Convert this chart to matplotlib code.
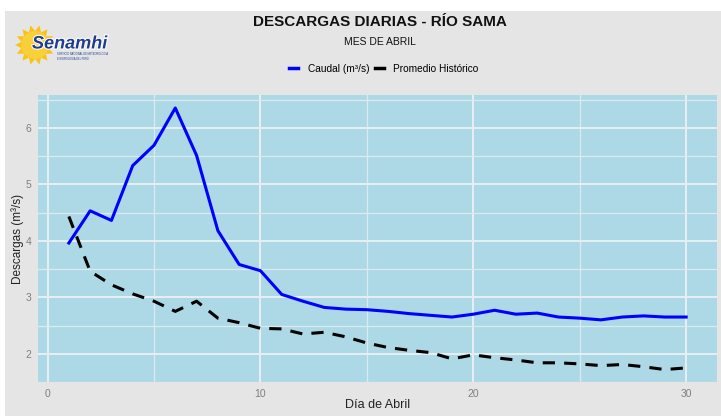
import numpy as np
import matplotlib
matplotlib.use("Agg")
import matplotlib.pyplot as plt
from matplotlib.patches import Rectangle, Polygon, Circle
from matplotlib.ticker import MultipleLocator
import matplotlib.patheffects as pe

# data
dias = list(range(1, 31))
caudal = [3.96, 4.53, 4.36, 5.33, 5.69, 6.35, 5.51, 4.18, 3.58, 3.47,
          3.05, 2.93, 2.82, 2.79, 2.78, 2.75, 2.71, 2.68, 2.65, 2.70,
          2.77, 2.70, 2.72, 2.65, 2.63, 2.60, 2.65, 2.67, 2.65, 2.65]
promedio = [4.43, 3.46, 3.22, 3.06, 2.93, 2.75, 2.93, 2.63, 2.55, 2.45,
            2.44, 2.35, 2.38, 2.30, 2.19, 2.11, 2.06, 2.02, 1.91, 1.98,
            1.93, 1.89, 1.84, 1.84, 1.82, 1.79, 1.81, 1.77, 1.72, 1.75]

plt.rcParams['font.family'] = ['Liberation Sans', 'DejaVu Sans']

W, H = 721, 416
fig = plt.figure(figsize=(W / 100, H / 100), dpi=100, facecolor='white')

# grey background of the plot area
fig.patches.append(Rectangle((5 / W, 0), 1, 1 - 11 / H, transform=fig.transFigure,
                             facecolor='#e5e5e5', edgecolor='none', zorder=-10))

ax = fig.add_axes([38 / W, 1 - 382 / H, (717 - 38) / W, (382 - 95) / H])
ax.set_facecolor('#add8e6')
ax.plot(dias, caudal, color='#0000ff', lw=2.2, label='Caudal (m³/s)')
ax.plot(dias, promedio, color='black', lw=2.2, ls=(0, (4, 3)), label='Promedio Histórico')

ax.set_xlim(-0.45, 31.45)
ax.set_ylim(1.5, 6.58)
ax.xaxis.set_major_locator(MultipleLocator(10))
ax.xaxis.set_minor_locator(MultipleLocator(5))
ax.yaxis.set_major_locator(MultipleLocator(1))
ax.yaxis.set_minor_locator(MultipleLocator(0.5))
ax.grid(which='major', color='#e4eff3', lw=1.5)
ax.grid(which='minor', color='#d9ebf1', lw=0.9)
ax.set_axisbelow(True)
for s in ax.spines.values():
    s.set_visible(False)
ax.tick_params(which='both', length=0, labelsize=7.5, labelcolor='#7f7f7f', pad=5)
ax.set_xlabel('Día de Abril', fontsize=9, color='#222222', va='center')
ax.set_ylabel('Descargas (m³/s)', fontsize=8.5, color='#222222', va='center')
ax.xaxis.set_label_coords(0.5, -23 / 287)
ax.yaxis.set_label_coords(-20 / 679, 0.5)

fig.text(380 / W, 1 - 22 / H, 'DESCARGAS DIARIAS - RÍO SAMA', ha='center', va='center',
         fontsize=11, fontweight='bold', color='#111111')
fig.text(380 / W, 1 - 42 / H, 'MES DE ABRIL', ha='center', va='center',
         fontsize=7.5, color='#111111')

leg = fig.legend(loc='center', bbox_to_anchor=(384 / W, 1 - 69 / H), ncol=2, frameon=False,
                 fontsize=7.3, handlelength=0.9, handletextpad=0.9, columnspacing=0.6)
for line in leg.get_lines():
    line.set_linestyle('-')
    line.set_linewidth(2.5)

# simple Senamhi logo
lax = fig.add_axes([15 / W, 1 - 70 / H, 105 / W, 50 / H])
lax.set_xlim(0, 105)
lax.set_ylim(50, 0)
lax.axis('off')
cx, cy = 20, 25
ang = np.linspace(0, 2 * np.pi, 29)[:-1]
rad = np.where(np.arange(28) % 2 == 0, 20, 14)
lax.add_patch(Polygon(np.c_[cx + rad * np.cos(ang), cy + rad * np.sin(ang)],
                      facecolor='#f8c218', edgecolor='none'))
lax.add_patch(Circle((cx, cy), 14, facecolor='#f9cf3a', edgecolor='none'))
lax.text(17, 24, 'Senamhi', fontsize=13, fontweight='bold', style='italic',
         color='#1f3d8c', va='center', ha='left',
         path_effects=[pe.withStroke(linewidth=1.5, foreground='white')])
lax.text(42, 36.5, 'SERVICIO NACIONAL DE METEOROLOGÍA\nE HIDROLOGÍA DEL PERÚ', fontsize=1.8,
         color='#1f3d8c', va='center', ha='left')

fig.savefig('out.png', dpi=100, facecolor='white')
